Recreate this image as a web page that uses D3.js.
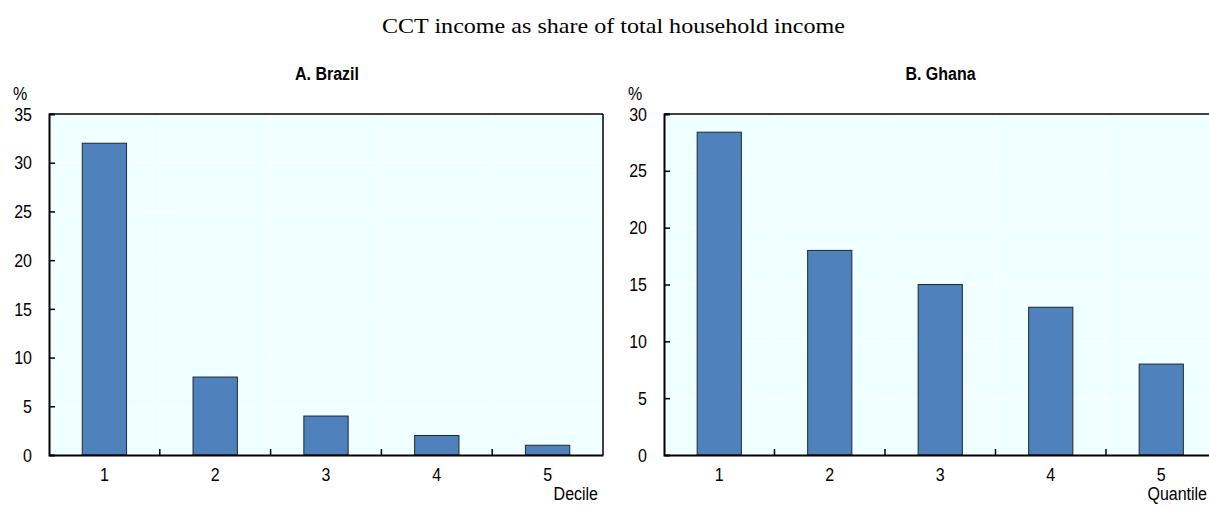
<!DOCTYPE html>
<html><head><meta charset="utf-8">
<script src="https://cdn.jsdelivr.net/npm/d3@7"></script>
<style>body{margin:0;background:#fff;overflow:hidden}</style>
</head><body>
<script>
const mainTitle = "CCT income as share of total household income";
const categories = ["1","2","3","4","5"];
const brazilValues = [32, 8, 4, 2, 1];
const ghanaValues = [28.4, 18, 15, 13, 8];
const brazilTicks = [0,5,10,15,20,25,30,35];
const ghanaTicks = [0,5,10,15,20,25,30];
const panels = [
  {title:"A. Brazil", values:brazilValues, ticks:brazilTicks, max:35, xlabel:"Decile", x0:49, x1:603, rightBorder:true, labelRight:598},
  {title:"B. Ghana", values:ghanaValues, ticks:ghanaTicks, max:30, xlabel:"Quantile", x0:664, x1:1216.5, rightBorder:false, labelRight:1207}
];
const W=1209,H=506, plotTop=114, plotBottom=455;
const SANS="Liberation Sans, Arial, sans-serif";
const SY=1.2;
const svg=d3.select("body").append("svg").attr("width",W).attr("height",H);
svg.append("text").attr("x",382).attr("y",33)
  .attr("font-family","Liberation Serif, Times New Roman, serif").attr("font-size",21)
  .attr("textLength",463).attr("lengthAdjust","spacingAndGlyphs").text(mainTitle);

function stretchText(g, x, y, txt, opts){
  return g.append("text").attr("transform",`translate(${x},${y}) scale(1,${opts.sy||SY})`)
    .attr("font-family",SANS).attr("font-size",opts.size||16)
    .attr("font-weight",opts.weight||"normal").attr("text-anchor",opts.anchor||"start").text(txt);
}

panels.forEach(p=>{
  const g=svg.append("g");
  const x=d3.scaleBand().domain(categories).range([p.x0,p.x1]).paddingInner(0).paddingOuter(0);
  const y=d3.scaleLinear().domain([0,p.max]).range([plotBottom,plotTop]);
  g.append("rect").attr("x",p.x0).attr("y",plotTop).attr("width",p.x1-p.x0).attr("height",plotBottom-plotTop).attr("fill","#f0ffff");
  g.selectAll(".hg").data(p.ticks.slice(1,-1)).join("line")
    .attr("x1",p.x0).attr("x2",p.x1).attr("y1",d=>y(d)).attr("y2",d=>y(d)).attr("stroke","#fff").attr("stroke-width",1);
  g.selectAll(".vg").data(categories.slice(1)).join("line")
    .attr("x1",d=>x(d)).attr("x2",d=>x(d)).attr("y1",plotTop).attr("y2",plotBottom).attr("stroke","#fff").attr("stroke-width",1);
  const bw=x.bandwidth()*0.4;
  g.selectAll(".bar").data(p.values).join("rect")
    .attr("x",(d,i)=>x(categories[i])+x.bandwidth()/2-bw/2).attr("width",bw)
    .attr("y",d=>y(d)).attr("height",d=>plotBottom-y(d))
    .attr("fill","#4f81bd").attr("stroke","#1c2833").attr("stroke-width",1);
  g.append("line").attr("x1",p.x0).attr("x2",p.x1).attr("y1",plotTop).attr("y2",plotTop).attr("stroke","#000").attr("stroke-width",1.5);
  if(p.rightBorder) g.append("line").attr("x1",p.x1).attr("x2",p.x1).attr("y1",plotTop).attr("y2",plotBottom).attr("stroke","#000").attr("stroke-width",1.5);
  const ya=g.append("g").attr("transform",`translate(${p.x0},0)`)
    .call(d3.axisLeft(y).tickValues(p.ticks).tickSize(-6).tickPadding(17));
  ya.select(".domain").attr("stroke","#000").attr("stroke-width",2);
  ya.selectAll(".tick line").attr("stroke","#000").attr("stroke-width",1.5);
  ya.selectAll(".tick text").attr("font-family",SANS).attr("font-size",16).attr("fill","#000")
    .attr("transform",`scale(1,${SY})`);
  ya.selectAll(".tick").filter(d=>d===0||d===p.max).select("line").remove();
  const xa=g.append("g").attr("transform",`translate(0,${plotBottom})`)
    .call(d3.axisBottom(x).tickSize(0).tickPadding(10));
  xa.select(".domain").attr("stroke","#000").attr("stroke-width",2);
  xa.selectAll(".tick text").attr("font-family",SANS).attr("font-size",16).attr("fill","#000")
    .attr("transform",`scale(1,${SY})`);
  g.selectAll(".xt").data(categories.slice(1)).join("line")
    .attr("x1",d=>x(d)).attr("x2",d=>x(d)).attr("y1",plotBottom).attr("y2",plotBottom-6).attr("stroke","#000").attr("stroke-width",1.5);
  stretchText(g,(p.x0+Math.min(p.x1,W+6))/2+1,80,p.title,{weight:"bold",anchor:"middle",sy:1.1});
  stretchText(g,p.x0-36,100,"%",{});
  stretchText(g,p.labelRight,500,p.xlabel,{anchor:"end",sy:1.1});
});
</script>
</body></html>
